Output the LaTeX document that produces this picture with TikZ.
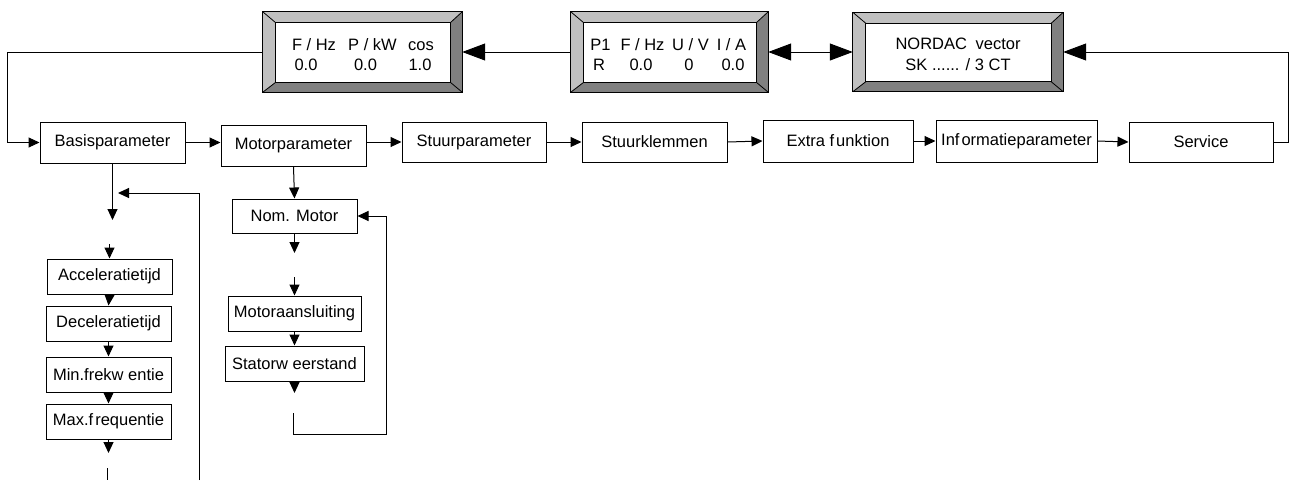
\documentclass[tikz,border=0pt]{standalone}
\usepackage{fontspec}
\setmainfont{Liberation Sans}
\usetikzlibrary{arrows.meta,calc}
\definecolor{bevlight}{RGB}{192,192,192}
\definecolor{bevdark}{RGB}{128,128,128}
\tikzset{
  lbl/.style={font=\fontsize{16.5}{19}\selectfont, inner sep=0pt},
  pbox/.style={draw, line width=1pt, inner sep=0pt, font=\fontsize{16.5}{19}\selectfont},
  disp/.style={inner sep=0pt},
  conn/.style={line width=1pt, -{Triangle[length=11pt,width=10pt]}},
  bigconn/.style={line width=1pt, -{Triangle[length=23pt,width=17pt]}},
  dblconn/.style={line width=1pt, {Triangle[length=23pt,width=17pt]}-{Triangle[length=23pt,width=17pt]}},
  plainline/.style={line width=1pt},
}
\newcommand\bevelframe[1]{%
  \coordinate (bNW) at (#1.north west);
  \coordinate (bNE) at (#1.north east);
  \coordinate (bSE) at (#1.south east);
  \coordinate (bSW) at (#1.south west);
  \coordinate (iNW) at ($(#1.north west)+(13,11)$);
  \coordinate (iNE) at ($(#1.north east)+(-12,11)$);
  \coordinate (iSE) at ($(#1.south east)+(-12,-10)$);
  \coordinate (iSW) at ($(#1.south west)+(13,-10)$);
  \fill[bevlight] (bNW) -- (bNE) -- (iNE) -- (iNW) -- cycle;
  \fill[bevlight] (bNW) -- (iNW) -- (iSW) -- (bSW) -- cycle;
  \fill[bevdark] (bNE) -- (bSE) -- (iSE) -- (iNE) -- cycle;
  \fill[bevdark] (bSW) -- (bSE) -- (iSE) -- (iSW) -- cycle;
  \draw[line width=1pt] (bNW) rectangle (bSE);
  \draw[line width=1pt] (iNW) rectangle (iSE);
  \draw[line width=0.8pt] (bNW) -- (iNW) (bNE) -- (iNE) (bSE) -- (iSE) (bSW) -- (iSW);
}
\begin{document}
\begin{tikzpicture}[x=1pt,y=-1pt]
\useasboundingbox[fill=white] (0,0) rectangle (1290,480);

% displays
\node[disp, minimum width=199pt, minimum height=80pt] (d1) at (362.5,52) {};
\node[disp, minimum width=197pt, minimum height=80pt] (d2) at (669.5,52) {};
\node[disp, minimum width=210pt, minimum height=79pt] (d3) at (958,52) {};
\bevelframe{d1}
\bevelframe{d2}
\bevelframe{d3}

\node[lbl, anchor=base] (d1a) at (314,50) {F / Hz};
\node[lbl, anchor=base] (d1b) at (372.5,50) {P / kW};
\node[lbl, anchor=base] (d1c) at (421,50) {cos};
\node[lbl, anchor=base] (d1d) at (306,70) {0.0};
\node[lbl, anchor=base] (d1e) at (365.5,70) {0.0};
\node[lbl, anchor=base] (d1f) at (420,70) {1.0};

\node[lbl, anchor=base] (d2a) at (600.5,50) {P1};
\node[lbl, anchor=base] (d2b) at (642.5,50) {F / Hz};
\node[lbl, anchor=base] (d2c) at (690.5,50) {U / V};
\node[lbl, anchor=base] (d2d) at (731.5,50) {I / A};
\node[lbl, anchor=base] (d2e) at (599,70) {R};
\node[lbl, anchor=base] (d2f) at (641,70) {0.0};
\node[lbl, anchor=base] (d2g) at (689,70) {0};
\node[lbl, anchor=base] (d2h) at (733,70) {0.0};

\node[lbl, anchor=base] (d3a) at (958,49.5) {NORDAC\kern4pt\ vector};
\node[lbl, anchor=base] (d3b) at (958,70) {SK ...... / 3 CT};

% main row
\node[pbox, minimum width=145pt, minimum height=41pt] (basis) at (112.5,142.5) {Basisparameter};
\node[pbox, minimum width=145pt, minimum height=41pt] (motor) at (293.5,145.5) {Motorparameter};
\node[pbox, minimum width=144pt, minimum height=40pt] (stuurp) at (474,142) {Stuurparameter};
\node[pbox, minimum width=145pt, minimum height=40pt] (stuurk) at (654.5,142) {Stuurklemmen};
\node[pbox, minimum width=150pt, minimum height=42pt] (extra) at (838,141) {Extra f\kern2pt unktion};
\node[pbox, minimum width=161pt, minimum height=42pt] (info) at (1016.5,141) {Inf\kern2pt ormatieparameter};
\node[pbox, minimum width=144pt, minimum height=40pt] (service) at (1201,142) {Service};

% left column
\node[pbox, minimum width=125pt, minimum height=35pt] (accel) at (109.5,276.5) {Acceleratietijd};
\node[pbox, minimum width=125pt, minimum height=35pt] (decel) at (108.5,323.5) {Deceleratietijd};
\node[pbox, minimum width=125pt, minimum height=35pt] (minf) at (108.5,374.5) {Min.frekw entie};
\node[pbox, minimum width=125pt, minimum height=35pt] (maxf) at (108.5,421.5) {Max.f\kern2pt requentie};

% centre column
\node[pbox, minimum width=125pt, minimum height=34pt] (nom) at (294.5,216) {Nom. Motor};
\node[pbox, minimum width=133pt, minimum height=35pt] (aansl) at (294.5,313.5) {Motoraansluiting};
\node[pbox, minimum width=139pt, minimum height=35pt] (stator) at (294.5,363.5) {Statorw eerstand};

% top connectors
\draw[bigconn] (d2.west) -- (d1.east);
\draw[dblconn] (d2.east) -- (d3.west);
\draw[bigconn] (service.east) -- ++(15,0) |- (d3.east);
\draw[conn] (d1.west) -- ++(-255,0) |- (basis.west);

% row connectors
\draw[conn] (basis.east) -- (basis.east -| motor.west);
\draw[conn] (motor.east |- stuurp.west) -- (stuurp.west);
\draw[conn] (stuurp) -- (stuurk);
\draw[conn] (stuurk.east) -- (extra.west);
\draw[conn] (extra) -- (info);
\draw[conn] (info.east) -- (service.west);

% left column connectors
\coordinate (bdn) at (112.5,220);
\draw[conn] (basis.south) -- (bdn);
\coordinate (rb) at (199,480);
\coordinate (rt) at (118,193);
\draw[conn] (rb) |- (rt);
\coordinate (ain) at (109.5,244);
\draw[conn] (ain) -- (accel.north);
\draw[conn] (accel.south) -- (decel.north);
\draw[conn] (decel) -- (minf);
\draw[conn] (minf) -- (maxf);
\coordinate (mout) at (108.5,453);
\draw[conn] (maxf.south) -- (mout);
\coordinate (lb1) at (107,468);
\coordinate (lb2) at (107,480);
\draw[plainline] (lb1) -- (lb2);

% centre column connectors
\draw[conn] (motor.south) -- (nom.north);
\coordinate (nout) at (294.5,253);
\draw[conn] (nom.south) -- (nout);
\coordinate (ain2) at (294.5,277);
\draw[conn] (ain2) -- (aansl.north);
\draw[conn] (aansl) -- (stator);
\coordinate (sout) at (294.5,393);
\draw[conn] (stator.south) -- (sout);
\coordinate (lp) at (293,413);
\coordinate (lpc) at (386,434);
\draw[conn] (lp) |- (lpc) |- (nom.east);
\end{tikzpicture}
\end{document}
